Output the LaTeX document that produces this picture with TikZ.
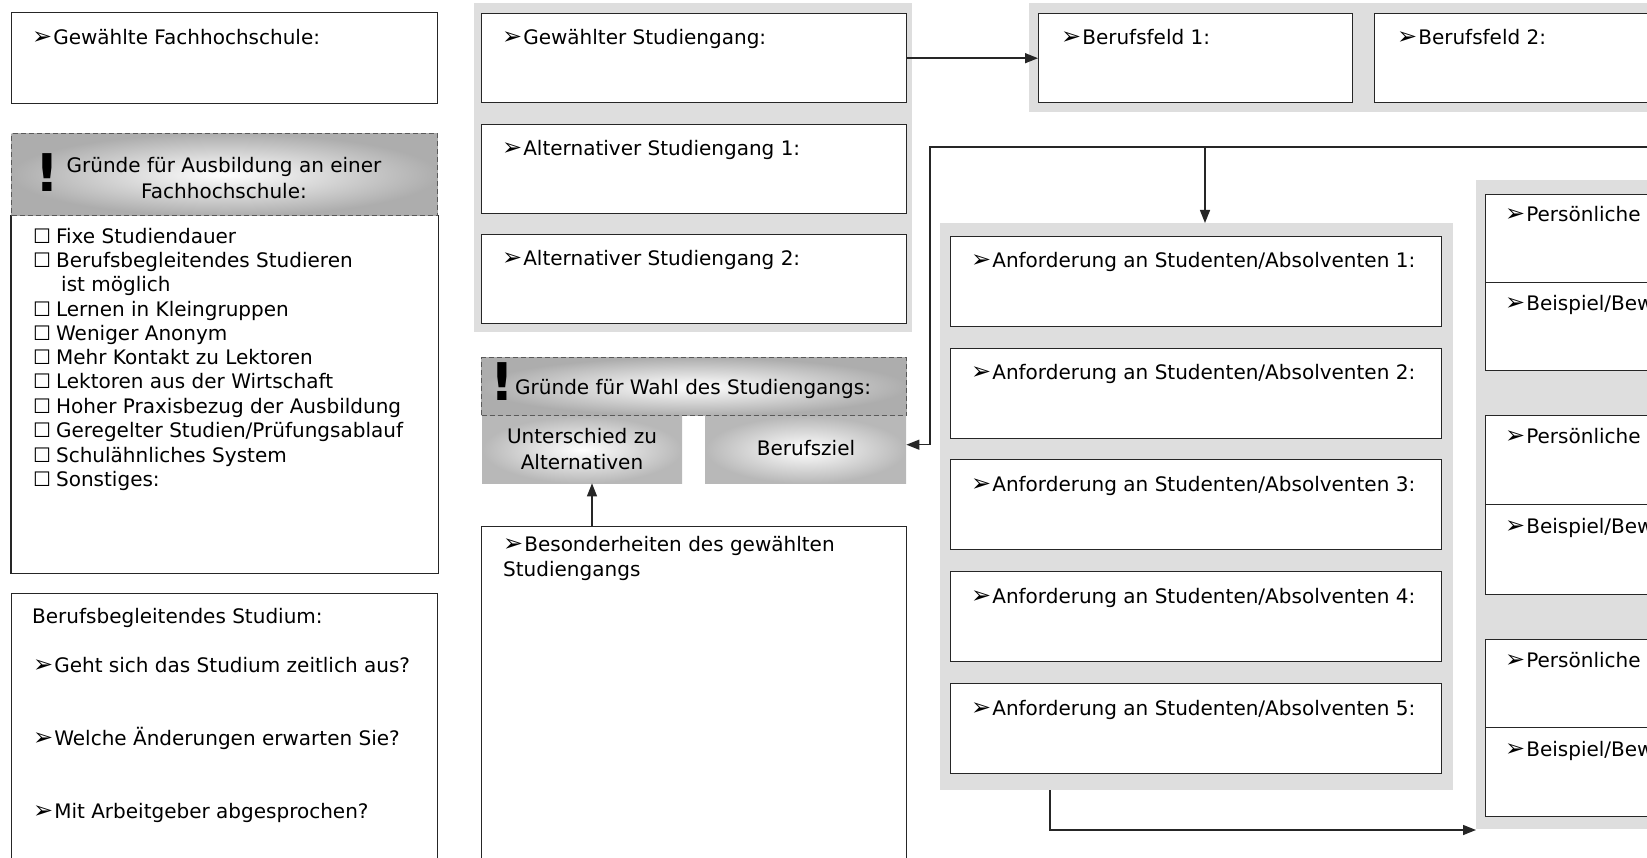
\documentclass[tikz,border=0pt]{standalone}
\usepackage{fontspec}
\setmainfont{DejaVu Sans}
\usetikzlibrary{arrows.meta,calc}
\newcommand\bul{{\fontsize{24}{24}\selectfont ➢}\hspace{1pt}}
\newcommand\cbx{{\fontsize{20}{20}\selectfont ☐}\hspace{5pt}}
\begin{document}
\begin{tikzpicture}[x=1pt,y=-1pt,
  box/.style={draw=black!85, line width=1.4pt, fill=white, anchor=north west, inner sep=0pt, rectangle},
  panel/.style={fill=black!13, anchor=north west, inner sep=0pt, draw=none, rectangle},
  hdr/.style={draw=black!65, dash pattern=on 5pt off 3pt, line width=1.2pt, inner color=white, outer color=black!32, anchor=north west, inner sep=0pt, rectangle},
  shbox/.style={inner color=white, outer color=black!28, anchor=north west, inner sep=0pt, draw=none, rectangle},
  txt/.style={anchor=base west, inner sep=0pt, font=\fontsize{20}{24}\selectfont},
  ctxt/.style={anchor=base, inner sep=0pt, font=\fontsize{20}{24}\selectfont},
  excl/.style={anchor=center, inner sep=0pt, font=\fontsize{52}{52}\selectfont\bfseries},
  conn/.style={draw=black!85, line width=1.4pt},
  arrowc/.style={conn, -{Triangle[length=13pt,width=10pt]}},
]
\useasboundingbox (0,0) rectangle (1647,858);
\clip (0,0) rectangle (1647,858);
\fill[white] (0,0) rectangle (1647,858);

% background panels
\node[panel, minimum width=438pt, minimum height=329pt] (sp) at (474,3) {};
\node[panel, minimum width=640pt, minimum height=109pt] (bfp) at (1029,3) {};
\node[panel, minimum width=513pt, minimum height=567pt] (anfp) at (940,223) {};
\node[panel, minimum width=200pt, minimum height=649pt] (rp) at (1476,180) {};

% left column
\node[box, minimum width=426pt, minimum height=91pt] (fh) at (11,12) {};
\node[txt] (fht) at (32,45) {\bul Gewählte Fachhochschule:};

\node[box, draw=none, minimum width=426pt, minimum height=357pt] (list) at (11,215) {};
\draw[conn] (list.north west) -- (list.south west) -- (list.south east) -- (list.north east);
\node[hdr, minimum width=426pt, minimum height=82pt] (hd1) at (11,133) {};
\node[excl] (ex1) at (47,173) {!};
\node[ctxt] (hd1a) at (224,173) {Gründe für Ausbildung an einer};
\node[ctxt] (hd1b) at (224,199) {Fachhochschule:};

\node[txt] (l1) at (33,244) {\cbx Fixe Studiendauer};
\node[txt] (l2) at (33,268) {\cbx Berufsbegleitendes Studieren};
\node[txt] (l2b) at (61,292) {ist möglich};
\node[txt] (l3) at (33,317) {\cbx Lernen in Kleingruppen};
\node[txt] (l4) at (33,341) {\cbx Weniger Anonym};
\node[txt] (l5) at (33,365) {\cbx Mehr Kontakt zu Lektoren};
\node[txt] (l6) at (33,389) {\cbx Lektoren aus der Wirtschaft};
\node[txt] (l7) at (33,414) {\cbx Hoher Praxisbezug der Ausbildung};
\node[txt] (l8) at (33,438) {\cbx Geregelter Studien/Prüfungsablauf};
\node[txt] (l9) at (33,462) {\cbx Schulähnliches System};
\node[txt] (l10) at (33,486) {\cbx Sonstiges:};

\node[box, minimum width=426pt, minimum height=300pt] (bb) at (11,593) {};
\node[txt] (bb0) at (32,623) {Berufsbegleitendes Studium:};
\node[txt] (bb1) at (33,672) {\bul Geht sich das Studium zeitlich aus?};
\node[txt] (bb2) at (33,745) {\bul Welche Änderungen erwarten Sie?};
\node[txt] (bb3) at (33,818) {\bul Mit Arbeitgeber abgesprochen?};

% second column
\node[box, minimum width=425pt, minimum height=89pt] (gs) at (481,13) {};
\node[txt] (gst) at (502,45) {\bul Gewählter Studiengang:};
\node[box, minimum width=425pt, minimum height=89pt] (as1) at (481,124) {};
\node[txt] (as1t) at (502,156) {\bul Alternativer Studiengang 1:};
\node[box, minimum width=425pt, minimum height=89pt] (as2) at (481,234) {};
\node[txt] (as2t) at (502,266) {\bul Alternativer Studiengang 2:};

\node[hdr, minimum width=425pt, minimum height=58pt] (hd2) at (481,357) {};
\node[excl] (ex2) at (502,382) {!};
\node[txt] (hd2t) at (515,395) {Gründe für Wahl des Studiengangs:};

\node[shbox, minimum width=200pt, minimum height=67pt] (us) at (482,416) {};
\node[ctxt] (usa) at (582,444) {Unterschied zu};
\node[ctxt] (usb) at (582,469) {Alternativen};
\node[shbox, minimum width=201pt, minimum height=67pt] (bz) at (705,416) {};
\node[ctxt] (bzt) at (806,456) {Berufsziel};

\node[box, minimum width=425pt, minimum height=400pt] (bes) at (481,526) {};
\node[txt] (best) at (503,551) {\bul Besonderheiten des gewählten};
\node[txt] (best2) at (503,576) {Studiengangs};

% Berufsfelder
\node[box, minimum width=314pt, minimum height=89pt] (bf1) at (1038,13) {};
\node[txt] (bf1t) at (1061,45) {\bul Berufsfeld 1:};
\node[box, minimum width=300pt, minimum height=89pt] (bf2) at (1374,13) {};
\node[txt] (bf2t) at (1397,45) {\bul Berufsfeld 2:};

% Anforderungen
\foreach \i/\t in {1/236,2/348,3/459,4/571,5/683}{
  \node[box, minimum width=491pt, minimum height=90pt] (a\i) at (950,\t) {};
  \node[txt] (a\i t) at (971,\t+32) {\bul Anforderung an Studenten/Absolventen \i:};
}

% right column
\foreach \i/\t/\d/\h/\k in {1/194/282/88/88,2/415/504/89/90,3/639/727/88/89}{
  \node[box, minimum width=200pt, minimum height=\h pt] (p\i) at (1485,\t) {};
  \node[box, minimum width=200pt, minimum height=\k pt] (b\i) at (1485,\d) {};
  \node[txt] (p\i t) at (1505,\t+28) {\bul Persönliche};
  \node[txt] (b\i t) at (1505,\d+29) {\bul Beispiel/Bew};
}

% connectors
\draw[arrowc] (gs.east) -- (bf1.west);
\coordinate (edgeR) at (1660,147);
\coordinate (c1) at (930,147);
\coordinate (c2) at (1205,147);
\coordinate (bzin) at ([yshift=5pt]bz.east);
\draw[arrowc] (edgeR) -- (c1) -- (c1 |- bzin) -- (bzin);
\draw[arrowc] (c2) -- (c2 |- anfp.north);
\coordinate (c3) at (1050,790);
\coordinate (c4) at (1050,830);
\draw[arrowc] (c3) -- (c4) -- (c4 -| rp.west);
\coordinate (c5) at (592,526);
\draw[arrowc] (c5) -- (c5 |- us.south);
\end{tikzpicture}
\end{document}
